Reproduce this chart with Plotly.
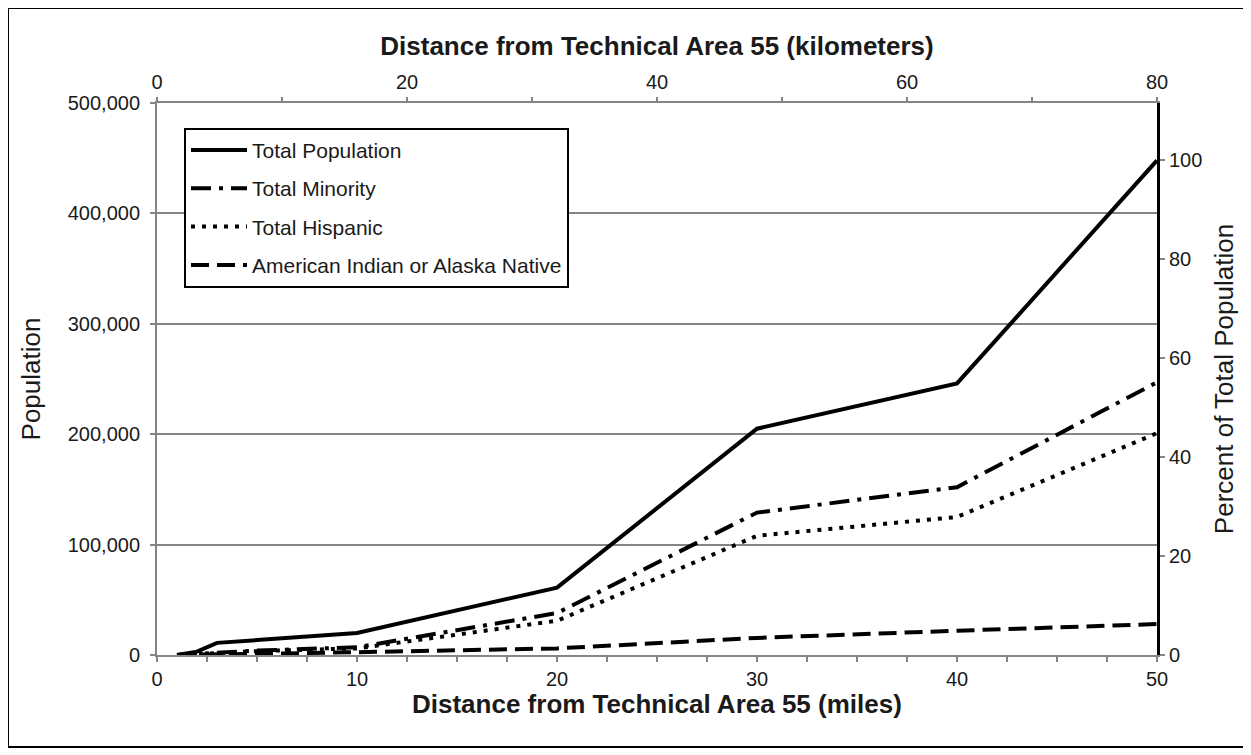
import plotly.graph_objects as go

# distance rings (miles) and cumulative population within each ring
miles = [1, 2, 3, 4, 5, 10, 20, 30, 40, 50]
total_population = [0, 3000, 11000, 12500, 13500, 20000, 61000, 205000, 246000, 448000]
total_minority = [0, 1000, 2500, 3500, 4000, 7000, 38000, 129000, 152000, 247000]
total_hispanic = [0, 800, 2000, 3000, 3500, 6000, 31000, 108000, 125000, 201000]
american_indian = [0, 200, 600, 800, 1000, 2500, 6000, 15500, 22000, 28000]

km_range = [0, 80]
pop_ticks = [0, 100000, 200000, 300000, 400000, 500000]
pct_ticks = [0, 20, 40, 60, 80, 100]

FONT = "Arial, Liberation Sans, sans-serif"
GRAY = "#858585"
TEXT = "#1a1a1a"

fig = go.Figure()

series = [
    ("Total Population", total_population, "solid"),
    ("Total Minority", total_minority, "20px,8px,4px,8px"),
    ("Total Hispanic", total_hispanic, "4px,7px"),
    ("American Indian or Alaska Native", american_indian, "18px,8px"),
]
for name, vals, dash in series:
    fig.add_trace(go.Scatter(
        x=miles, y=vals, name=name, mode="lines", legendgroup=name,
        line=dict(color="black", width=4, dash=dash),
        hoverinfo="skip",
    ))

# invisible trace so the km axis and percent axis get drawn
pct_max = 500000 / total_population[-1] * 100
fig.add_trace(go.Scatter(
    x=km_range, y=[0, pct_max], xaxis="x2", yaxis="y2",
    mode="lines", line=dict(width=0), showlegend=False, hoverinfo="skip",
))

fig.update_layout(
    width=1243, height=747,
    paper_bgcolor="white", plot_bgcolor="white",
    margin=dict(l=149, r=94, t=95, b=100),
    font=dict(family=FONT, size=20, color=TEXT),
    showlegend=True,
    legend=dict(
        x=0.027, y=0.955, xanchor="left", yanchor="top",
        bgcolor="white", bordercolor="black", borderwidth=2,
        font=dict(size=21, color=TEXT),
        tracegroupgap=8, itemwidth=56,
    ),
    xaxis=dict(
        range=[0, 50], tickvals=[0, 10, 20, 30, 40, 50],
        showgrid=False, zeroline=False,
        showline=True, linecolor=GRAY, linewidth=2,
        ticks="outside", ticklen=5, tickcolor=GRAY, tickwidth=2,
        minor=dict(dtick=2.5, ticks="outside", ticklen=5, tickcolor=GRAY, tickwidth=2, showgrid=False),
        tickfont=dict(size=20),
    ),
    xaxis2=dict(
        range=km_range, overlaying="x", side="top", anchor="y",
        tickvals=[0, 20, 40, 60, 80],
        showgrid=False, zeroline=False,
        showline=True, linecolor=GRAY, linewidth=2,
        ticks="outside", ticklen=4, tickcolor=GRAY, tickwidth=2,
        minor=dict(dtick=10, ticks="outside", ticklen=4, tickcolor=GRAY, tickwidth=2, showgrid=False),
        tickfont=dict(size=20),
        title=dict(text="<b>Distance from Technical Area 55 (kilometers)</b>",
                   font=dict(size=26), standoff=8),
    ),
    yaxis=dict(
        range=[0, 500000], tickvals=pop_ticks, tickformat=",d",
        showgrid=True, gridcolor=GRAY, gridwidth=2, zeroline=False,
        showline=True, linecolor=GRAY, linewidth=2,
        ticks="outside", ticklen=5, tickcolor=GRAY, tickwidth=2,
        ticklabelstandoff=6,
        tickfont=dict(size=20),
        title=dict(text="Population", font=dict(size=26), standoff=20),
    ),
    yaxis2=dict(
        range=[0, pct_max], overlaying="y", side="right", anchor="x",
        tickvals=pct_ticks,
        showgrid=False, zeroline=False,
        showline=True, linecolor="black", linewidth=3,
        ticks="outside", ticklen=5, tickcolor=GRAY, tickwidth=2,
        tickfont=dict(size=20),
        title=dict(text="Percent of Total Population", font=dict(size=26), standoff=14),
    ),
    annotations=[
        dict(text="<b>Distance from Technical Area 55 (miles)</b>",
             xref="paper", yref="paper", x=0.5, y=-0.089,
             xanchor="center", yanchor="middle", showarrow=False,
             font=dict(size=26, color=TEXT)),
    ],
    shapes=[
        dict(type="rect", xref="paper", yref="paper",
             x0=-0.149, x1=1.087, y0=-0.1667, y1=1.172,
             line=dict(color="black", width=2), fillcolor="rgba(0,0,0,0)", layer="below"),
    ],
)

fig.write_html("out.html")
